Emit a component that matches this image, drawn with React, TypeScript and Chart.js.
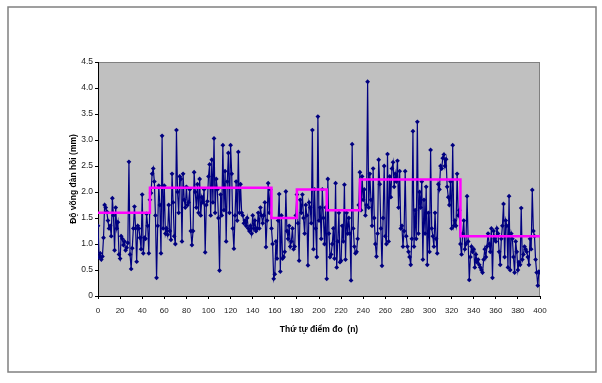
import React, { useEffect, useRef } from "react";
import { Chart, registerables } from "chart.js";
Chart.register(...registerables);

// Measured deflection per point (index 0..400), split by section
const seg1 = [1.35, 0.75, 0.82, 0.7, 0.76, 1.12, 1.75, 1.7, 1.62, 1.45, 1.3, 1.35, 1.15, 1.88, 1.55, 0.88, 1.7, 1.3, 1.42, 0.8, 0.72, 1.15, 1.1, 0.98, 1.05, 0.88, 0.93, 1.02, 2.58, 0.8, 0.52, 0.92, 1.3, 1.72, 1.3, 0.66, 1.35, 1.3, 1.12, 0.9, 1.95, 0.82, 1.12, 1.1, 1.58, 1.35, 0.82];
const seg2 = [1.85, 1.98, 2.35, 2.45, 2.2, 1.55, 0.35, 1.35, 2.12, 1.75, 0.82, 3.08, 1.3, 2.12, 1.2, 1.3, 1.18, 1.75, 1.25, 1.08, 2.35, 1.8, 1.15, 1.0, 3.19, 2.0, 1.6, 2.3, 2.25, 1.05, 2.35, 1.85, 1.7, 2.1, 1.75, 1.8, 2.05, 1.25, 0.98, 1.25, 2.38, 2.0, 1.7, 2.15, 1.6, 2.25, 1.55, 1.9, 1.8, 2.05, 0.84, 1.75, 1.82, 2.3, 2.53, 1.55, 2.62, 1.8, 3.03, 1.6, 2.25, 2.05, 1.5, 0.49, 1.95, 1.55, 2.9, 1.65, 2.4, 1.05, 2.2, 2.75, 1.6, 2.9, 2.35, 1.3, 0.91, 1.55, 2.2, 1.45, 2.77, 1.6, 2.15, 1.6, 1.55, 1.4, 1.45, 1.35, 1.5, 1.3, 1.25, 1.35, 1.2, 1.55, 1.3, 1.45, 1.25, 1.3, 1.6, 1.3, 1.7, 1.55, 1.4, 1.55, 1.8, 0.94, 1.45, 2.17, 1.6, 2.05];
const seg3 = [1.3, 1.0, 0.33, 0.42, 1.05, 0.72, 1.45, 1.96, 0.47, 1.55, 0.72, 0.75, 0.85, 2.01, 1.25, 1.1, 1.35, 0.95, 1.05, 1.3, 0.9, 0.95, 1.55];
const seg4 = [1.95, 1.4, 0.68, 1.85, 1.6, 1.95, 1.5, 1.2, 1.75, 1.55, 0.59, 1.8, 1.7, 1.4, 3.19, 0.9, 2.05, 1.3, 0.75, 3.45, 1.45, 1.7, 1.1, 2.05, 1.5, 1.0, 1.7];
const seg5 = [0.33, 2.25, 1.2, 0.75, 0.8, 1.0, 1.3, 0.72, 2.17, 0.55, 1.05, 1.6, 0.65, 0.68, 1.35, 1.05, 2.14, 0.7, 1.6, 1.2, 1.5, 1.2, 0.3, 2.92, 1.3, 0.95, 0.82, 0.85, 1.1, 1.75];
const seg6 = [2.38, 1.65, 2.3, 1.85, 2.05, 1.55, 1.75, 4.12, 1.7, 2.35, 1.85, 1.35, 2.45, 1.5, 1.0, 0.76, 1.2, 2.62, 2.15, 1.3, 0.58, 1.5, 2.5, 1.15, 1.0, 2.73, 1.05, 2.3, 1.9, 2.45, 2.57, 2.1, 2.35, 2.2, 2.6, 1.7, 2.4, 1.3, 1.35, 0.95, 1.25, 2.4, 1.15, 0.95, 0.85, 0.75, 0.6, 1.1, 3.17, 0.95, 1.65, 1.1, 3.35, 1.2, 2.0, 1.7, 2.2, 0.7, 1.85, 1.2, 2.1, 0.6, 1.6, 0.85, 2.81, 1.3, 1.15, 0.95, 1.6, 1.1, 0.82, 2.15, 2.05, 2.5, 2.45, 2.65, 2.72, 2.5, 2.63, 2.1, 1.9, 1.75, 2.2, 1.3, 2.9, 1.35, 1.45, 1.35, 2.35, 1.55, 1.65];
const seg7 = [1.0, 0.8, 1.2, 1.45, 0.9, 1.0, 1.92, 1.05, 0.31, 0.75, 0.95, 0.85, 0.9, 0.55, 0.8, 0.65, 0.7, 0.6, 0.55, 0.5, 0.45, 0.7, 0.9, 0.75, 0.95, 1.2, 1.0, 0.85, 1.3, 0.35, 1.25, 1.1, 1.05, 1.3, 1.2, 0.85, 0.6, 1.1, 1.35, 1.77, 0.75, 1.45, 1.35, 0.55, 1.92, 0.5, 1.2, 1.1, 0.75, 0.45, 1.05, 0.85, 0.5, 0.65, 0.6, 1.69, 0.7, 0.8, 0.95, 0.9, 0.85, 0.75, 0.6, 1.1, 0.9, 2.04, 1.25, 1.15, 0.7, 0.45, 0.2, 0.47, 0.45];

// Section boundaries (point index) and section mean values
const sectionBreaks = [0, 47, 157, 180, 207, 237, 328, 400];
const sectionMeans = [1.6, 2.08, 1.5, 2.05, 1.65, 2.24, 1.15];

const xMin = 0, xMax = 400, xStep = 20;
const yMin = 0, yMax = 4.5, yStep = 0.5;
const yTitle = "Độ võng đàn hồi (mm)";
const xTitle = "Thứ tự điểm đo  (n)";

const FONT = "'Liberation Sans', Arial, sans-serif";

export default function App() {
  const ref = useRef<HTMLCanvasElement | null>(null);
  useEffect(() => {
    const canvas = ref.current;
    if (!canvas) return;
    const values = [...seg1, ...seg2, ...seg3, ...seg4, ...seg5, ...seg6, ...seg7];
    const points = values.map((v, i) => ({ x: i, y: v }));
    const meanPts: { x: number; y: number }[] = [];
    sectionMeans.forEach((m, i) => {
      meanPts.push({ x: sectionBreaks[i], y: m });
      meanPts.push({ x: sectionBreaks[i + 1], y: m });
    });

    const decor = {
      id: "decor",
      beforeDraw(chart: any) {
        const { ctx, chartArea: a } = chart;
        ctx.save();
        ctx.fillStyle = "#ffffff";
        ctx.fillRect(0, 0, chart.width, chart.height);
        ctx.strokeStyle = "#808080";
        ctx.lineWidth = 1.5;
        ctx.strokeRect(8, 7, 588, 365);
        ctx.fillStyle = "#C0C0C0";
        ctx.fillRect(a.left, a.top, a.right - a.left, a.bottom - a.top);
        ctx.strokeStyle = "#808080";
        ctx.lineWidth = 1;
        ctx.strokeRect(a.left + 0.5, a.top + 0.5, a.right - a.left - 1, a.bottom - a.top);
        ctx.restore();
      },
      afterDraw(chart: any) {
        const { ctx, chartArea: a } = chart;
        ctx.save();
        ctx.font = `bold 8.5px ${FONT}`;
        ctx.fillStyle = "#000";
        ctx.textAlign = "center";
        ctx.textBaseline = "middle";
        ctx.fillText(xTitle, (a.left + a.right) / 2, a.bottom + 34);
        ctx.restore();
      },
    };

    const chart = new Chart(canvas, {
      type: "line",
      data: {
        datasets: [
          {
            data: meanPts,
            borderColor: "#FF00FF",
            borderWidth: 2.5,
            pointRadius: 0,
            tension: 0,
            fill: false,
          },
          {
            data: points,
            borderColor: "#000080",
            backgroundColor: "#000080",
            borderWidth: 1.2,
            pointStyle: "rectRot",
            pointRadius: 2.4,
            pointBorderWidth: 0,
            tension: 0,
            fill: false,
          },
        ],
      },
      options: {
        animation: false,
        responsive: false,
        devicePixelRatio: 1,
        layout: { padding: { left: 69, top: 62, right: 62, bottom: 67 } },
        plugins: { legend: { display: false }, tooltip: { enabled: false }, title: { display: false } },
        scales: {
          x: {
            type: "linear",
            min: xMin,
            max: xMax,
            ticks: { stepSize: xStep, font: { family: FONT, size: 8 }, color: "#222", padding: 7, maxRotation: 0, autoSkip: false },
            grid: { display: true, drawOnChartArea: false, drawTicks: true, tickLength: 3, color: "#000" },
            border: { display: true, color: "#000", width: 1 },
            afterFit(scale: any) { scale.height = 20; },
          },
          y: {
            type: "linear",
            min: yMin,
            max: yMax,
            ticks: { stepSize: yStep, font: { family: FONT, size: 8.5 }, color: "#222", padding: 2 },
            grid: { display: true, drawOnChartArea: false, drawTicks: true, tickLength: 3, color: "#000" },
            border: { display: true, color: "#000", width: 1 },
            title: { display: true, text: yTitle, font: { family: FONT, size: 8.5, weight: "bold" }, color: "#000", padding: { top: 0, bottom: 0 } },
            afterFit(scale: any) { scale.width = 29; },
          },
        },
      },
      plugins: [decor],
    });
    return () => chart.destroy();
  }, []);

  return (
    <div style={{ position: "fixed", left: 0, top: 0, width: 602, height: 383, background: "#fff" }}>
      <canvas ref={ref} width={602} height={383} style={{ width: 602, height: 383, display: "block" }} />
    </div>
  );
}
